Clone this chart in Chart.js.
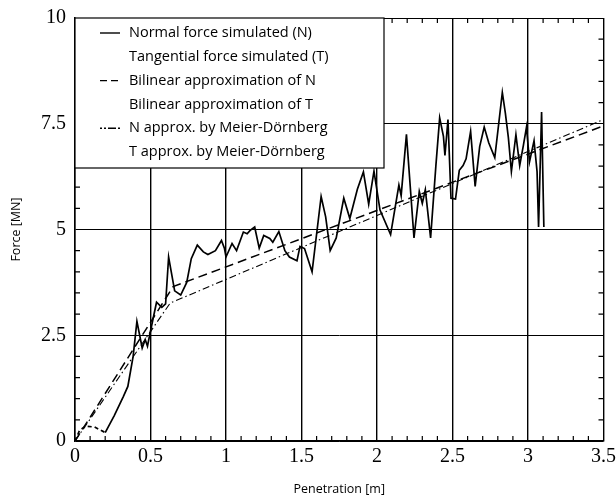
<!DOCTYPE html>
<html>
<head>
<meta charset="utf-8">
<script src="https://cdn.jsdelivr.net/npm/chart.js@4"></script>
<style>
  html, body { margin: 0; padding: 0; background: #fff; }
  #wrap { width: 616px; height: 497px; position: relative; }
</style>
</head>
<body>
<div id="wrap"><canvas id="grafico" width="616" height="497"></canvas></div>
<script>
// Normal force simulated (N)
const simX = [0, 0.03, 0.07, 0.13, 0.2, 0.26, 0.32, 0.35, 0.385, 0.41, 0.445, 0.465, 0.48, 0.5, 0.54, 0.575,
  0.6, 0.62, 0.66, 0.7, 0.74, 0.77, 0.81, 0.85, 0.88, 0.93, 0.97, 0.99, 1.0, 1.04, 1.07, 1.115, 1.14, 1.16,
  1.19, 1.22, 1.25, 1.29, 1.31, 1.35, 1.39, 1.42, 1.47, 1.49, 1.52, 1.57, 1.63, 1.66, 1.69, 1.73, 1.78, 1.82,
  1.87, 1.91, 1.945, 1.98, 2.02, 2.09, 2.145, 2.16, 2.195, 2.245, 2.28, 2.3, 2.32, 2.355, 2.39, 2.415, 2.44,
  2.45, 2.47, 2.49, 2.52, 2.545, 2.57, 2.59, 2.62, 2.65, 2.68, 2.71, 2.74, 2.78, 2.83, 2.85, 2.87, 2.89, 2.92,
  2.945, 2.97, 2.99, 3.01, 3.04, 3.06, 3.07, 3.09, 3.105];
const simY = [0, 0.25, 0.35, 0.33, 0.2, 0.6, 1.05, 1.29, 2.0, 2.83, 2.2, 2.4, 2.24, 2.6, 3.28, 3.16,
  3.24, 4.35, 3.55, 3.45, 3.75, 4.31, 4.63, 4.47, 4.41, 4.5, 4.74, 4.55, 4.35, 4.67, 4.5, 4.94, 4.9, 4.98,
  5.06, 4.56, 4.86, 4.79, 4.7, 4.95, 4.5, 4.35, 4.26, 4.6, 4.55, 4.0, 5.78, 5.3, 4.5, 4.8, 5.74, 5.26,
  5.95, 6.36, 5.6, 6.38, 5.46, 4.88, 6.05, 5.8, 7.25, 4.8, 5.9, 5.62, 5.94, 4.8, 6.51, 7.64, 7.2,
  6.75, 7.6, 5.74, 5.72, 6.4, 6.51, 6.67, 7.32, 6.02, 6.96, 7.42, 7.05, 6.7, 8.24, 7.75, 7.17, 6.37, 7.24,
  6.51, 7.0, 7.42, 6.6, 7.1, 6.37, 5.06, 7.78, 5.06];

// Bilinear approximation of N
const bilinX = [0, 0.65, 3.5];
const bilinY = [0, 3.65, 7.45];

// N approx. by Meier-Dörnberg
const mdX = [0, 0.63, 3.5];
const mdY = [0, 3.26, 7.6];

const xTicks = [0, 0.5, 1, 1.5, 2, 2.5, 3, 3.5];
const xLabels = ['0', '0.5', '1', '1.5', '2', '2.5', '3', '3.5'];
const yTicks = [0, 2.5, 5, 7.5, 10];
const yLabels = ['0', '2.5', '5', '7.5', '10'];

const legendRows = [
  { text: 'Normal force simulated (N)', dash: [] },
  { text: 'Tangential force simulated (T)', dash: null },
  { text: 'Bilinear approximation of N', dash: [7, 4] },
  { text: 'Bilinear approximation of T', dash: null },
  { text: 'N approx. by Meier-D\u00f6rnberg', dash: [2, 2, 2, 2, 8, 2] },
  { text: 'T approx. by Meier-D\u00f6rnberg', dash: null }
];

const pares = (xs, ys) => xs.map((x, i) => ({ x: x, y: ys[i] }));

// minor ticks on all four sides, pointing inward
const marcasMenores = {
  id: 'marcasMenores',
  afterDatasetsDraw(chart) {
    const { ctx, chartArea: a, scales } = chart;
    ctx.save();
    ctx.strokeStyle = '#000';
    ctx.lineWidth = 1.2;
    ctx.beginPath();
    for (let i = 1; i < 35; i++) {
      if (i % 5 === 0) continue;
      const px = scales.x.getPixelForValue(i / 10);
      ctx.moveTo(px, a.bottom); ctx.lineTo(px, a.bottom - 5);
      ctx.moveTo(px, a.top); ctx.lineTo(px, a.top + 5);
    }
    for (let i = 1; i < 20; i++) {
      if (i % 5 === 0) continue;
      const py = scales.y.getPixelForValue(i / 2);
      ctx.moveTo(a.left, py); ctx.lineTo(a.left + 5, py);
      ctx.moveTo(a.right, py); ctx.lineTo(a.right - 5, py);
    }
    ctx.stroke();
    ctx.restore();
  }
};

// legend box in the upper left corner of the plot
const leyenda = {
  id: 'leyenda',
  afterDraw(chart) {
    const { ctx, chartArea: a } = chart;
    ctx.save();
    const w = 309, h = 150;
    ctx.fillStyle = '#fff';
    ctx.fillRect(a.left, a.top, w, h);
    ctx.strokeStyle = '#000';
    ctx.lineWidth = 1.2;
    ctx.strokeRect(a.left, a.top, w, h);
    ctx.font = '14.5px "Open Sans"';
    ctx.fillStyle = '#000';
    ctx.textBaseline = 'middle';
    legendRows.forEach((r, i) => {
      const y = a.top + 15 + i * 23.8;
      ctx.fillText(r.text, a.left + 54, y);
      if (r.dash) {
        ctx.beginPath();
        ctx.setLineDash(r.dash);
        ctx.lineWidth = 1.4;
        ctx.moveTo(a.left + 25, y);
        ctx.lineTo(a.left + 45, y);
        ctx.stroke();
      }
    });
    ctx.restore();
  }
};

const fuenteEje = { family: '"Liberation Serif", serif', size: 20 };

new Chart(document.getElementById('grafico').getContext('2d'), {
  type: 'scatter',
  data: {
    datasets: [
      {
        label: 'Normal force simulated (N)',
        data: pares(simX, simY),
        showLine: true,
        borderColor: '#000',
        borderWidth: 1.7,
        pointRadius: 0,
        tension: 0,
        segment: { borderDash: c => (c.p1DataIndex <= 4 ? [4, 3] : undefined) }
      },
      {
        label: 'Bilinear approximation of N',
        data: pares(bilinX, bilinY),
        showLine: true,
        borderColor: '#000',
        borderWidth: 1.5,
        borderDash: [9, 5],
        pointRadius: 0
      },
      {
        label: 'N approx. by Meier-Dörnberg',
        data: pares(mdX, mdY),
        showLine: true,
        borderColor: '#000',
        borderWidth: 1.1,
        borderDash: [7, 3, 1.5, 3],
        pointRadius: 0
      }
    ]
  },
  options: {
    responsive: false,
    animation: false,
    layout: { padding: { top: 18, right: 0, left: 0, bottom: 0 } },
    plugins: { legend: { display: false }, tooltip: { enabled: false } },
    scales: {
      x: {
        type: 'linear',
        min: 0,
        max: 3.5,
        afterBuildTicks: s => { s.ticks = xTicks.map(v => ({ value: v })); },
        afterFit: s => { s.height = 56; s.paddingRight = 12.5; },
        ticks: {
          color: '#000', font: fuenteEje, padding: 4, maxRotation: 0,
          callback: (v, i) => xLabels[i]
        },
        grid: { color: '#000', lineWidth: 1.4, drawTicks: false },
        border: { color: '#000', width: 1.5 },
        title: {
          display: true,
          text: 'Penetration [m]',
          color: '#000',
          font: { family: '"Open Sans", sans-serif', size: 12.5 },
          padding: { top: 4, bottom: 0 }
        }
      },
      y: {
        type: 'linear',
        min: 0,
        max: 10,
        afterBuildTicks: s => { s.ticks = yTicks.map(v => ({ value: v })); },
        afterFit: s => { s.width = 75; s.paddingTop = 0; s.paddingBottom = 0; },
        ticks: {
          color: '#000', font: fuenteEje, padding: 9,
          callback: (v, i) => yLabels[i]
        },
        grid: { color: '#000', lineWidth: 1, drawTicks: false },
        border: { color: '#000', width: 1.5 },
        title: {
          display: true,
          text: 'Force [MN]',
          color: '#000',
          font: { family: '"Open Sans", sans-serif', size: 12.5 },
          padding: { top: 9, bottom: 0 }
        }
      }
    }
  },
  plugins: [marcasMenores, leyenda]
});
</script>
</body>
</html>
